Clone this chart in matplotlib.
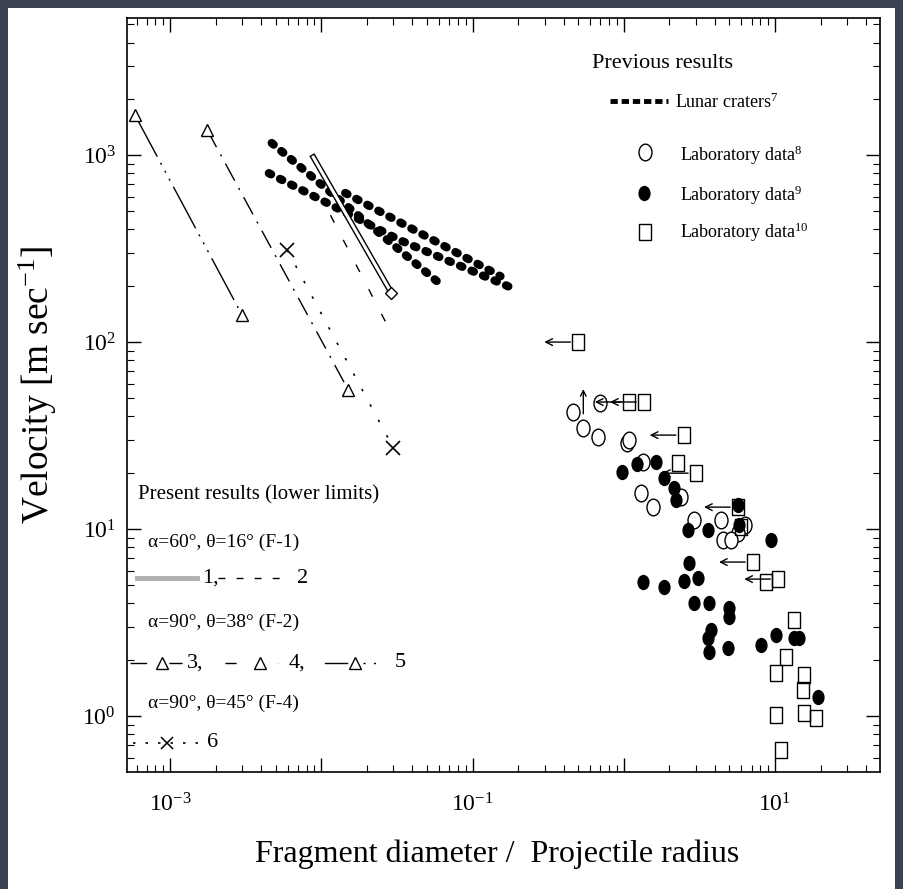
import matplotlib
matplotlib.use('Agg')
import matplotlib.pyplot as plt
import matplotlib.patheffects as pe
from matplotlib.patches import Rectangle
from matplotlib.path import Path
from matplotlib.ticker import LogLocator, NullFormatter

plt.rcParams['font.family'] = 'Liberation Serif'
plt.rcParams['mathtext.fontset'] = 'custom'
plt.rcParams['mathtext.rm'] = 'Liberation Serif'
plt.rcParams['mathtext.it'] = 'Liberation Serif:italic'

# --- previous results: lunar craters (thick dashed lines)
lunar_a_x = [0.0047, 0.060]
lunar_a_y = [1160, 207]
lunar_b_x = [0.0045, 0.033, 0.19]
lunar_b_y = [800, 351, 192]
lunar_c_x = [0.0144, 0.153]
lunar_c_y = [627, 225]

# laboratory data 8 (open circles)
lab8_x = [0.46, 0.54, 0.68, 0.70, 1.05, 1.08, 1.34, 1.30, 1.56, 2.38, 2.91, 4.39, 6.33, 5.69, 4.53, 5.11]
lab8_y = [42.3, 34.7, 31.1, 47.2, 28.8, 29.9, 22.8, 15.6, 13.1, 14.8, 11.2, 11.2, 10.5, 9.5, 8.7, 8.7]

# laboratory data 9 (filled circles)
lab9_x = [0.98, 1.22, 1.63, 1.84, 2.14, 2.21, 5.69, 5.78, 2.65, 3.60, 9.41, 2.69, 2.49, 3.09,
          2.91, 3.66, 4.96, 4.96, 3.77, 3.60, 3.66, 4.89, 8.08, 10.2, 13.4, 14.4, 19.3, 1.34, 1.84]
lab9_y = [20.2, 22.3, 22.8, 18.7, 16.6, 14.3, 13.4, 10.5, 9.9, 9.9, 8.7, 6.6, 5.3, 5.5,
          4.0, 4.0, 3.8, 3.4, 2.9, 2.6, 2.2, 2.3, 2.4, 2.7, 2.6, 2.6, 1.26, 5.2, 4.9]

# laboratory data 10 (open squares, some lower limits marked by arrows)
lab10_x = [0.50, 1.08, 1.36, 2.49, 2.28, 3.0, 5.69, 5.96, 7.15, 8.71, 10.5, 13.4, 11.8, 10.2,
           15.6, 15.3, 10.2, 15.6, 18.7, 11.0]
lab10_y = [100, 47.8, 47.8, 31.8, 22.5, 19.9, 13.1, 10.3, 6.66, 5.21, 5.40, 3.26, 2.07, 1.70,
           1.66, 1.38, 1.01, 1.04, 0.976, 0.658]
lab10_arrow = [True, True, True, True, False, True, True, False, True, False, True, False, False,
               False, False, False, False, False, False, False]
up_arrow_x = [0.54]
up_arrow_y = [(40, 58)]

# --- present results (lower limits)
line1_x = [0.00885, 0.0291]
line1_y = [975, 183]
line2_x = [0.0115, 0.0295]
line2_y = [477, 109]
line4_x = [0.00176, 0.0151]
line4_y = [1361, 55.3]
line5_x = [0.000586, 0.0030]
line5_y = [1637, 139]
line6_x = [0.00596, 0.030]
line6_y = [310, 27.1]

# marker shapes: upright ellipse and tall rectangle, as in the scan
_c = Path.unit_circle()
ellipse = Path(_c.vertices * [0.78, 1.0], _c.codes)
tall_box = [(-0.33, -0.5), (0.33, -0.5), (0.33, 0.5), (-0.33, 0.5), (-0.33, -0.5)]

fig = plt.figure(figsize=(9.04, 8.89), dpi=100, facecolor='#3b4352')
fig.patches.append(Rectangle((0.0088, 0.0), 0.981, 0.991, transform=fig.transFigure,
                             facecolor='white', edgecolor='none', zorder=-10))
ax = fig.add_axes([0.1405, 0.1316, 0.833, 0.848])
ax.set_xscale('log')
ax.set_yscale('log')
ax.set_xlim(5.19e-4, 49.5)
ax.set_ylim(0.502, 5400)

lunar_style = dict(color='black', lw=6, ls=(0, (0.3, 1.2)), dash_capstyle='round')
ax.plot(lunar_a_x, lunar_a_y, **lunar_style)
ax.plot(lunar_b_x, lunar_b_y, **lunar_style)
ax.plot(lunar_c_x, lunar_c_y, **lunar_style)

ax.plot(lab8_x, lab8_y, ls='none', marker=ellipse, ms=12, mfc='white', mec='black', mew=1.0, zorder=3)
ax.plot(lab9_x, lab9_y, ls='none', marker=ellipse, ms=10, mfc='black', mec='black', zorder=4)
ax.plot(lab10_x, lab10_y, ls='none', marker=tall_box, ms=12, mfc='none', mec='black', mew=1.0, zorder=3)
for x, y, has_arrow in zip(lab10_x, lab10_y, lab10_arrow):
    if has_arrow:
        ax.annotate('', xy=(x / 1.75, y), xytext=(x / 1.08, y),
                    arrowprops=dict(arrowstyle='->', lw=1.0, color='black', mutation_scale=12))
for x, (y0, y1) in zip(up_arrow_x, up_arrow_y):
    ax.annotate('', xy=(x, y1), xytext=(x, y0),
                arrowprops=dict(arrowstyle='->', lw=1.0, color='black', mutation_scale=10))

# present results
ax.plot(line1_x, line1_y, color='white', lw=2.2,
        path_effects=[pe.Stroke(linewidth=4.2, foreground='black'), pe.Normal()])
ax.plot(line1_x[-1:], line1_y[-1:], ls='none', marker='D', ms=6, mfc='white', mec='black')
ax.plot(line2_x, line2_y, color='black', lw=1.0, ls=(0, (6, 14)))
ax.plot(line4_x, line4_y, color='black', lw=1.0, ls=(0, (14, 6, 1.5, 6)),
        marker='^', ms=9, mfc='white', mec='black')
ax.plot(line5_x, line5_y, color='black', lw=1.0, ls=(0, (34, 5, 1.5, 5, 1.5, 5, 1.5, 5)),
        marker='^', ms=9, mfc='white', mec='black')
ax.plot(line6_x, line6_y, color='black', lw=1.2, ls=(0, (1.5, 9)),
        marker='x', ms=10, mew=1.2, mec='black')

# axes, ticks
ax.set_xticks([1e-3, 1e-2, 1e-1, 1, 10])
ax.set_xticklabels([r'$10^{-3}$', '', r'$10^{-1}$', '', r'$10^{1}$'])
ax.set_yticks([1, 10, 100, 1000])
ax.set_yticklabels([r'$10^{0}$', r'$10^{1}$', r'$10^{2}$', r'$10^{3}$'])
ax.xaxis.set_minor_locator(LogLocator(base=10, subs=range(2, 10), numticks=20))
ax.yaxis.set_minor_locator(LogLocator(base=10, subs=range(2, 10), numticks=20))
ax.xaxis.set_minor_formatter(NullFormatter())
ax.yaxis.set_minor_formatter(NullFormatter())
ax.tick_params(which='both', direction='in', top=True, right=True, colors='black', labelsize=17)
ax.tick_params(which='major', length=10, width=1.0)
ax.tick_params(which='minor', length=5, width=0.8)
ax.tick_params(axis='x', pad=15)
ax.tick_params(axis='y', pad=8)
for s in ax.spines.values():
    s.set_linewidth(1.2)

ax.set_xlabel('Fragment diameter /  Projectile radius', fontsize=23)
ax.xaxis.set_label_coords(0.491, -0.090)
ax.set_ylabel(r'Velocity [m sec$^{-1}$]', fontsize=27)
ax.yaxis.set_label_coords(-0.090, 0.513)

# legend: previous results (upper right)
T = ax.transAxes
ax.text(0.6175, 0.940, 'Previous results', transform=T, fontsize=16, va='center')
ax.plot([0.641, 0.718], [0.890, 0.890], transform=T, color='black', lw=3.5, ls=(0, (1.5, 0.8)))
ax.text(0.728, 0.889, r'Lunar craters$^{7}$', transform=T, fontsize=13, va='center')
ax.plot([0.688], [0.822], transform=T, ls='none', marker=ellipse, ms=12, mfc='white', mec='black')
ax.text(0.734, 0.818, r'Laboratory data$^{8}$', transform=T, fontsize=13, va='center')
ax.plot([0.686], [0.768], transform=T, ls='none', marker=ellipse, ms=10, mfc='black', mec='black')
ax.text(0.734, 0.765, r'Laboratory data$^{9}$', transform=T, fontsize=13, va='center')
ax.plot([0.688], [0.716], transform=T, ls='none', marker=tall_box, ms=12, mfc='none', mec='black')
ax.text(0.734, 0.716, r'Laboratory data$^{10}$', transform=T, fontsize=13, va='center')

# legend: present results (lower left)
ax.text(0.0146, 0.367, 'Present results (lower limits)', transform=T, fontsize=15, va='center')
ax.text(0.028, 0.304, 'α=60°, θ=16° (F-1)', transform=T, fontsize=14, va='center')
ax.plot([0.013, 0.093], [0.257, 0.257], transform=T, color='#b0b0b0', lw=3.5, clip_on=False)
ax.text(0.100, 0.257, '1,', transform=T, fontsize=16, va='center')
ax.plot([0.121, 0.216], [0.257, 0.257], transform=T, color='black', lw=1.0, ls=(0, (5, 8)))
ax.text(0.226, 0.257, '2', transform=T, fontsize=16, va='center')
ax.text(0.028, 0.199, 'α=90°, θ=38° (F-2)', transform=T, fontsize=14, va='center')
ax.plot([0.004, 0.073], [0.145, 0.145], transform=T, color='black', lw=1.0, ls=(0, (12, 16)),
        clip_on=False)
ax.plot([0.046], [0.145], transform=T, marker='^', ms=8, mfc='white', mec='black')
ax.text(0.080, 0.145, '3,', transform=T, fontsize=16, va='center')
ax.plot([0.130, 0.200], [0.145, 0.145], transform=T, color='black', lw=1.0, ls=(0, (8, 30)))
ax.plot([0.177], [0.145], transform=T, marker='^', ms=8, mfc='white', mec='black')
ax.text(0.214, 0.145, '4,', transform=T, fontsize=16, va='center')
ax.plot([0.263, 0.292], [0.145, 0.145], transform=T, color='black', lw=1.0)
ax.plot([0.313, 0.335], [0.145, 0.145], transform=T, color='black', lw=1.0, ls=(0, (1.5, 6)))
ax.plot([0.303], [0.145], transform=T, marker='^', ms=8, mfc='white', mec='black')
ax.text(0.356, 0.145, '5', transform=T, fontsize=16, va='center')
ax.text(0.028, 0.0915, 'α=90°, θ=45° (F-4)', transform=T, fontsize=14, va='center')
ax.plot([0.008, 0.097], [0.0385, 0.0385], transform=T, color='black', lw=1.2, ls=(0, (1.5, 6)),
        clip_on=False)
ax.plot([0.053], [0.0385], transform=T, marker='x', ms=8, mew=1.1, mec='black')
ax.text(0.106, 0.0385, '6', transform=T, fontsize=16, va='center')

fig.savefig('out.png', dpi=100, facecolor=fig.get_facecolor())
